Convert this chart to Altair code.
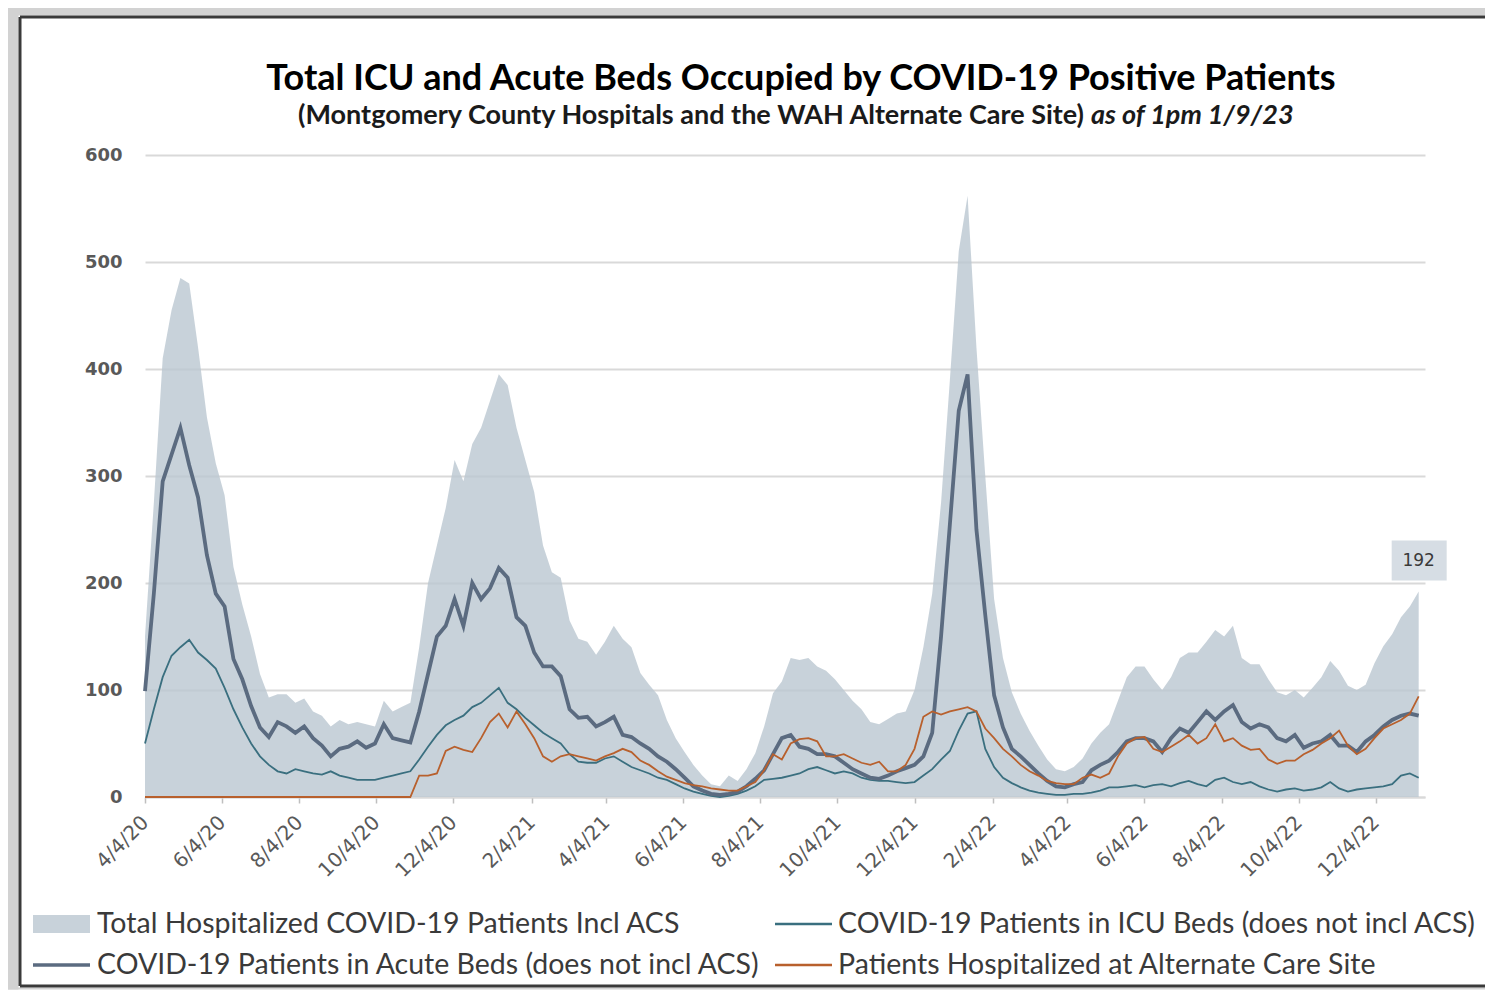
import altair as alt
import pandas as pd

# ---------------- data (weekly readings from the reference) ----------------
start_date = "2020-04-04"
dates = pd.date_range(start_date, periods=145, freq="7D")

acute = [
    99, 190, 295, 320, 345, 310, 280, 226, 190, 178,
    129, 110, 85, 65, 56, 70, 66, 60, 66, 55,
    48, 38, 45, 47, 52, 46, 50, 68, 55, 53,
    51, 80, 115, 150, 160, 185, 160, 200, 185, 195,
    214, 205, 168, 160, 135, 122, 122, 113, 82, 74,
    75, 66, 70, 75, 58, 56, 50, 45, 38, 33,
    26, 18, 10, 6, 3, 2, 3, 5, 10, 17,
    25, 40, 55, 58, 47, 45, 40, 40, 38, 32,
    26, 22, 18, 17, 20, 24, 27, 30, 38, 60,
    150, 255, 361, 395, 250, 170, 95, 65, 45, 38,
    30, 22, 15, 10, 9, 12, 14, 25, 30, 34,
    42, 52, 55, 55, 52, 42, 55, 64, 60, 70,
    80, 72, 80, 86, 70, 64, 68, 65, 55, 52,
    58, 46, 50, 52, 58, 48, 48, 42, 52, 58,
    66, 72, 76, 78, 76,
]

icu = [
    50, 82, 112, 132, 140, 147, 135, 128, 120, 102,
    82, 65, 50, 38, 30, 24, 22, 26, 24, 22,
    21, 24, 20, 18, 16, 16, 16, 18, 20, 22,
    24, 35, 47, 58, 67, 72, 76, 84, 88, 95,
    102, 88, 82, 74, 67, 60, 55, 50, 40, 33,
    32, 32, 36, 38, 33, 28, 25, 22, 18, 16,
    12, 8, 5, 3, 1, 0, 1, 3, 6, 10,
    16, 17, 18, 20, 22, 26, 28, 25, 22, 24,
    22, 18, 16, 15, 15, 14, 13, 14, 20, 26,
    35, 43, 62, 78, 80, 45, 28, 18, 13, 9,
    6, 4, 3, 2, 2, 3, 3, 4, 6, 9,
    9, 10, 11, 9, 11, 12, 10, 13, 15, 12,
    10, 16, 18, 14, 12, 14, 10, 7, 5, 7,
    8, 6, 7, 9, 14, 8, 5, 7, 8, 9,
    10, 12, 20, 22, 18,
]

acs = [
    0, 0, 0, 0, 0, 0, 0, 0, 0, 0,
    0, 0, 0, 0, 0, 0, 0, 0, 0, 0,
    0, 0, 0, 0, 0, 0, 0, 0, 0, 0,
    0, 20, 20, 22, 43, 47, 44, 42, 55, 70,
    78, 65, 80, 68, 55, 38, 33, 38, 40, 38,
    36, 34, 38, 41, 45, 42, 34, 30, 24, 19,
    16, 13, 11, 10, 8, 7, 6, 6, 10, 14,
    25, 40, 35, 50, 54, 55, 52, 38, 38, 40,
    36, 32, 30, 33, 24, 24, 30, 45, 75, 80,
    77, 80, 82, 84, 80, 64, 55, 45, 38, 30,
    24, 20, 15, 13, 12, 12, 18, 21, 18, 22,
    38, 50, 55, 56, 45, 42, 47, 52, 58, 50,
    55, 68, 52, 55, 48, 44, 45, 35, 31, 34,
    34, 40, 44, 50, 55, 62, 48, 40, 45, 55,
    64, 68, 72, 78, 94,
]

total = [
    150, 275, 410, 455, 485, 480, 420, 355, 312, 282,
    215, 180, 150, 115, 93, 96, 96, 88, 92, 80,
    76, 66, 72, 68, 70, 68, 66, 90, 80, 84,
    88, 140, 200, 235, 270, 315, 295, 330, 345, 370,
    395, 385, 345, 315, 285, 235, 210, 205, 165, 148,
    145, 133, 145, 160, 148, 140, 116, 105, 95, 72,
    55, 42, 30, 20, 12, 10, 20, 15, 26, 41,
    66, 97, 108, 130, 128, 130, 122, 118, 110, 100,
    90, 82, 70, 68, 73, 78, 80, 100, 140, 190,
    275, 390, 510, 562, 420, 300, 185, 130, 98, 78,
    62, 48, 35, 26, 24, 28, 36, 50, 60, 68,
    90, 112, 122, 122, 110, 100, 112, 130, 135, 135,
    145, 156, 150, 160, 130, 124, 124, 110, 98, 95,
    100, 93, 102, 112, 127, 118, 104, 100, 105, 125,
    141, 152, 168, 178, 192,
]

tick_dates = [
    "2020-04-04", "2020-06-04", "2020-08-04", "2020-10-04", "2020-12-04",
    "2021-02-04", "2021-04-04", "2021-06-04", "2021-08-04", "2021-10-04",
    "2021-12-04", "2022-02-04", "2022-04-04", "2022-06-04", "2022-08-04",
    "2022-10-04", "2022-12-04",
]
x_domain = ["2020-04-04", "2023-01-12"]
y_ticks = [0, 100, 200, 300, 400, 500, 600]

title_text = "Total ICU and Acute Beds Occupied by COVID-19 Positive Patients"
subtitle_main = "(Montgomery County Hospitals and the WAH Alternate Care Site)"
subtitle_date = "as of  1pm 1/9/23"
legend_labels = [
    "Total Hospitalized COVID-19 Patients Incl ACS",
    "COVID-19 Patients in  ICU Beds (does not incl ACS)",
    "COVID-19 Patients in Acute Beds (does not incl ACS)",
    "Patients Hospitalized at Alternate Care Site",
]

# ---------------- styles ----------------
AREA = "#bac7d1"
AREA_OP = 0.8
ACUTE = "#5b6b80"
ICU = "#3a6f7f"
ACS = "#b8602d"
GRID = "#d9d9d9"
FRAME_BG = "#d2d2d2"
FRAME_LINE = "#3a3a3a"
LABEL = "#595959"
TEXT = "#3a3a3a"


def dt(s):
    y, m, d = (int(p) for p in s.split("-"))
    return alt.DateTime(year=y, month=m, date=d)


df = pd.DataFrame({"date": dates, "total": total, "icu": icu,
                   "acute": acute, "acs": acs})
last = df.iloc[[-1]]
one = pd.DataFrame({"k": [0]})

x_enc = alt.X(
    "date:T",
    scale=alt.Scale(domain=[dt(x_domain[0]), dt(x_domain[1])]),
    axis=alt.Axis(
        values=[dt(s) for s in tick_dates], format="%-m/%-d/%y", title=None,
        labelAngle=-45, labelAlign="right", labelBaseline="middle",
        labelFont="DejaVu Sans", labelFontSize=20,
        labelColor=LABEL, labelPadding=16, tickColor="#bfbfbf", tickSize=6,
        tickWidth=1.5, domainColor=GRID, domainWidth=2, grid=False,
    ),
)


def y_enc(field):
    return alt.Y(
        f"{field}:Q",
        scale=alt.Scale(domain=[0, 600], nice=False),
        axis=alt.Axis(
            values=y_ticks, title=None, domain=False, ticks=False,
            labelFont="DejaVu Sans", labelFontWeight="bold", labelFontSize=18,
            labelColor=LABEL, labelPadding=23, gridColor=GRID, gridWidth=2,
        ),
    )


def rect(x1, x2, y1, y2, color, opacity=1.0):
    return alt.Chart(one).mark_rect(color=color, opacity=opacity).encode(
        x=alt.value(x1), x2=alt.value(x2), y=alt.value(y1), y2=alt.value(y2))


def hrule(x1, x2, y, color, w):
    return alt.Chart(one).mark_rule(color=color, strokeWidth=w).encode(
        x=alt.value(x1), x2=alt.value(x2), y=alt.value(y))


def vrule(x, y1, y2, color, w):
    return alt.Chart(one).mark_rule(color=color, strokeWidth=w).encode(
        x=alt.value(x), y=alt.value(y1), y2=alt.value(y2))


def label(x, y, s, **kw):
    return alt.Chart(one).mark_text(**kw).encode(
        x=alt.value(x), y=alt.value(y), text=alt.value(s))


# frame around the chart (page-like border)
BOTTOM = 831
frame = [
    rect(-137, 1340, -147, -139.5, FRAME_BG),
    rect(-137, -126.5, -147, BOTTOM + 3.5, FRAME_BG),
    rect(-137, 1340, BOTTOM + 1.5, BOTTOM + 3.5, FRAME_BG),
    hrule(-125, 1340, -138, FRAME_LINE, 3),
    vrule(-125, -138, BOTTOM, FRAME_LINE, 3),
    hrule(-125, 1340, BOTTOM, FRAME_LINE, 3),
]

area = alt.Chart(df).mark_area(color=AREA, opacity=AREA_OP).encode(
    x=x_enc, y=y_enc("total"))
icu_line = alt.Chart(df).mark_line(color=ICU, strokeWidth=1.8).encode(
    x=x_enc, y=y_enc("icu"))
acute_line = alt.Chart(df).mark_line(color=ACUTE, strokeWidth=3.8).encode(
    x=x_enc, y=y_enc("acute"))
acs_line = alt.Chart(df).mark_line(color=ACS, strokeWidth=1.8).encode(
    x=x_enc, y=y_enc("acs"))

box = alt.Chart(last).mark_rect(
    color="#d6dde4", xOffset=-27, x2Offset=28, yOffset=-51, y2Offset=-11
).encode(x=x_enc, x2="date:T", y=y_enc("total"), y2="total:Q")
box_text = alt.Chart(last).mark_text(
    font="DejaVu Sans", fontSize=17, color=TEXT, dy=-31, baseline="middle"
).encode(x=x_enc, y=y_enc("total"), text=alt.Text("total:Q", format="d"))

titles = [
    label(656, -65, title_text, font="Lato", fontSize=36, fontWeight="bold",
          color="#000000", align="center", baseline="alphabetic"),
    label(939, -31, subtitle_main, font="Lato", fontSize=27, fontWeight="bold",
          color="#1a1a1a", align="right", baseline="alphabetic"),
    label(946, -31, subtitle_date, font="Lato", fontSize=27, fontWeight="bold",
          fontStyle="italic", color="#1a1a1a", align="left",
          baseline="alphabetic"),
]

LEG_FS = 28.5
legend = [
    rect(-112, -55, 760, 778, AREA, AREA_OP),
    label(-48, 769, legend_labels[0], font="Lato", fontSize=LEG_FS, color=TEXT,
          align="left", baseline="middle"),
    hrule(630, 687, 769, ICU, 2.5),
    label(693, 769, legend_labels[1], font="Lato", fontSize=LEG_FS, color=TEXT,
          align="left", baseline="middle"),
    hrule(-112, -55, 810, ACUTE, 3.5),
    label(-48, 810, legend_labels[2], font="Lato", fontSize=LEG_FS, color=TEXT,
          align="left", baseline="middle"),
    hrule(630, 687, 810, ACS, 2.5),
    label(693, 810, legend_labels[3], font="Lato", fontSize=LEG_FS, color=TEXT,
          align="left", baseline="middle"),
]

chart = alt.layer(
    *frame, area, icu_line, acute_line, acs_line, box, box_text,
    *titles, *legend
).properties(
    width=1280, height=642,
    padding={"left": 0, "top": 0, "right": 0, "bottom": 0},
).configure(background="white").configure_view(stroke=None)

chart.save("out.html", embed_options={"renderer": "svg", "actions": False})
